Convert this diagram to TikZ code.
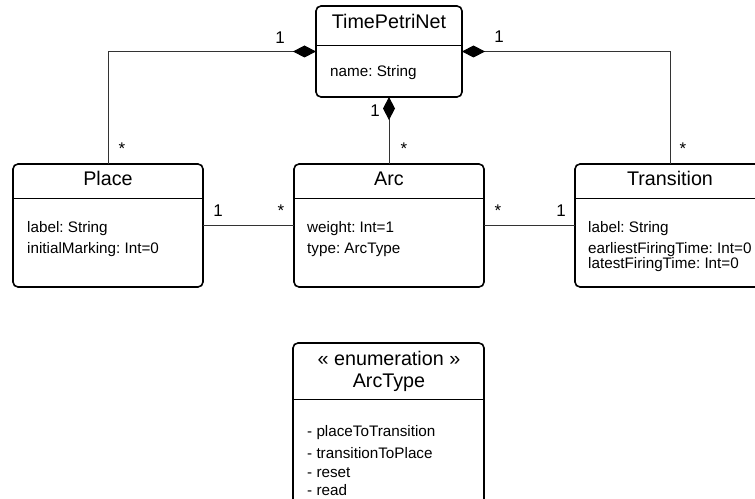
\documentclass[tikz,border=0pt]{standalone}
\usepackage{fontspec}
\setmainfont{Liberation Sans}
\usetikzlibrary{arrows.meta}
\frenchspacing
\begin{document}
\begin{tikzpicture}[x=1bp,y=-1bp,
  cls/.style={draw, line width=1.6bp, rounded corners=5bp, inner sep=0pt, outer sep=0pt},
  sep/.style={line width=0.9bp},
  ttl/.style={font=\fontsize{19.8}{22}\selectfont, inner sep=0pt, anchor=base},
  att/.style={font=\fontsize{15.3}{18}\selectfont, inner sep=0pt, anchor=base west},
  mult/.style={font=\fontsize{17}{20}\selectfont, inner sep=0pt, anchor=base},
  conn/.style={line width=0.9bp, draw=black!80},
  comp/.style={-{Diamond[length=23bp,width=12bp,fill=black,color=black]}}]
\clip (0,0) rectangle (755,499);
% classes
\node[cls, minimum width=146bp, minimum height=91bp] (tpn) at (389,51.5) {};
\node[cls, minimum width=190bp, minimum height=123bp] (place) at (108,225.5) {};
\node[cls, minimum width=190bp, minimum height=123bp] (arc) at (389,225.5) {};
\node[cls, minimum width=190bp, minimum height=123bp] (trans) at (670,225.5) {};
\node[cls, minimum width=191bp, minimum height=162bp] (arctype) at (388.5,424) {};
% compartment separators
\draw[sep] (tpn.west |- 0,45) -- (tpn.east |- 0,45);
\draw[sep] (place.west |- 0,198) -- (place.east |- 0,198);
\draw[sep] (arc.west |- 0,198) -- (arc.east |- 0,198);
\draw[sep] (trans.west |- 0,198) -- (trans.east |- 0,198);
\draw[sep] (arctype.west |- 0,399) -- (arctype.east |- 0,399);
% texts
\node[ttl] (tpnT) at (389,29) {TimePetriNet};
\node[att] (tpnA) at (330,77) {name: String};
\node[ttl] (placeT) at (108,186) {Place};
\node[att] (placeA1) at (27,233) {label: String};
\node[att] (placeA2) at (27,254) {initialMarking: Int=0};
\node[ttl] (arcT) at (389,186) {Arc};
\node[att] (arcA1) at (307,233) {weight: Int=1};
\node[att] (arcA2) at (307,254) {type: ArcType};
\node[ttl] (transT) at (670,186) {Transition};
\node[att] (transA1) at (588,233) {label: String};
\node[att] (transA2) at (588,254) {earliestFiringTime: Int=0};
\node[att] (transA3) at (588,269) {latestFiringTime: Int=0};
\node[ttl] (atS) at (389,365) {« enumeration »};
\node[ttl] (atT) at (389,387) {ArcType};
\node[att] (atL1) at (307,436) {- placeToTransition};
\node[att] (atL2) at (307,458) {- transitionToPlace};
\node[att] (atL3) at (307,477) {- reset};
\node[att] (atL4) at (307,495) {- read};
% connectors
\draw[conn, comp] (place.north) |- (tpn.west);
\draw[conn, comp] (trans.north) |- (tpn.east);
\draw[conn, comp] (arc.north) -- (tpn.south);
\draw[conn] (place.east) -- (arc.west);
\draw[conn] (arc.east) -- (trans.west);
% multiplicities
\node[mult] (m1) at (280,44) {1};
\node[mult] (m2) at (122,155) {*};
\node[mult] (m3) at (375,117) {1};
\node[mult] (m4) at (404,155) {*};
\node[mult] (m5) at (499,43) {1};
\node[mult] (m6) at (683,155) {*};
\node[mult] (m7) at (218,217) {1};
\node[mult] (m8) at (281,217) {*};
\node[mult] (m9) at (498,217) {*};
\node[mult] (m10) at (561,217) {1};
\end{tikzpicture}
\end{document}
